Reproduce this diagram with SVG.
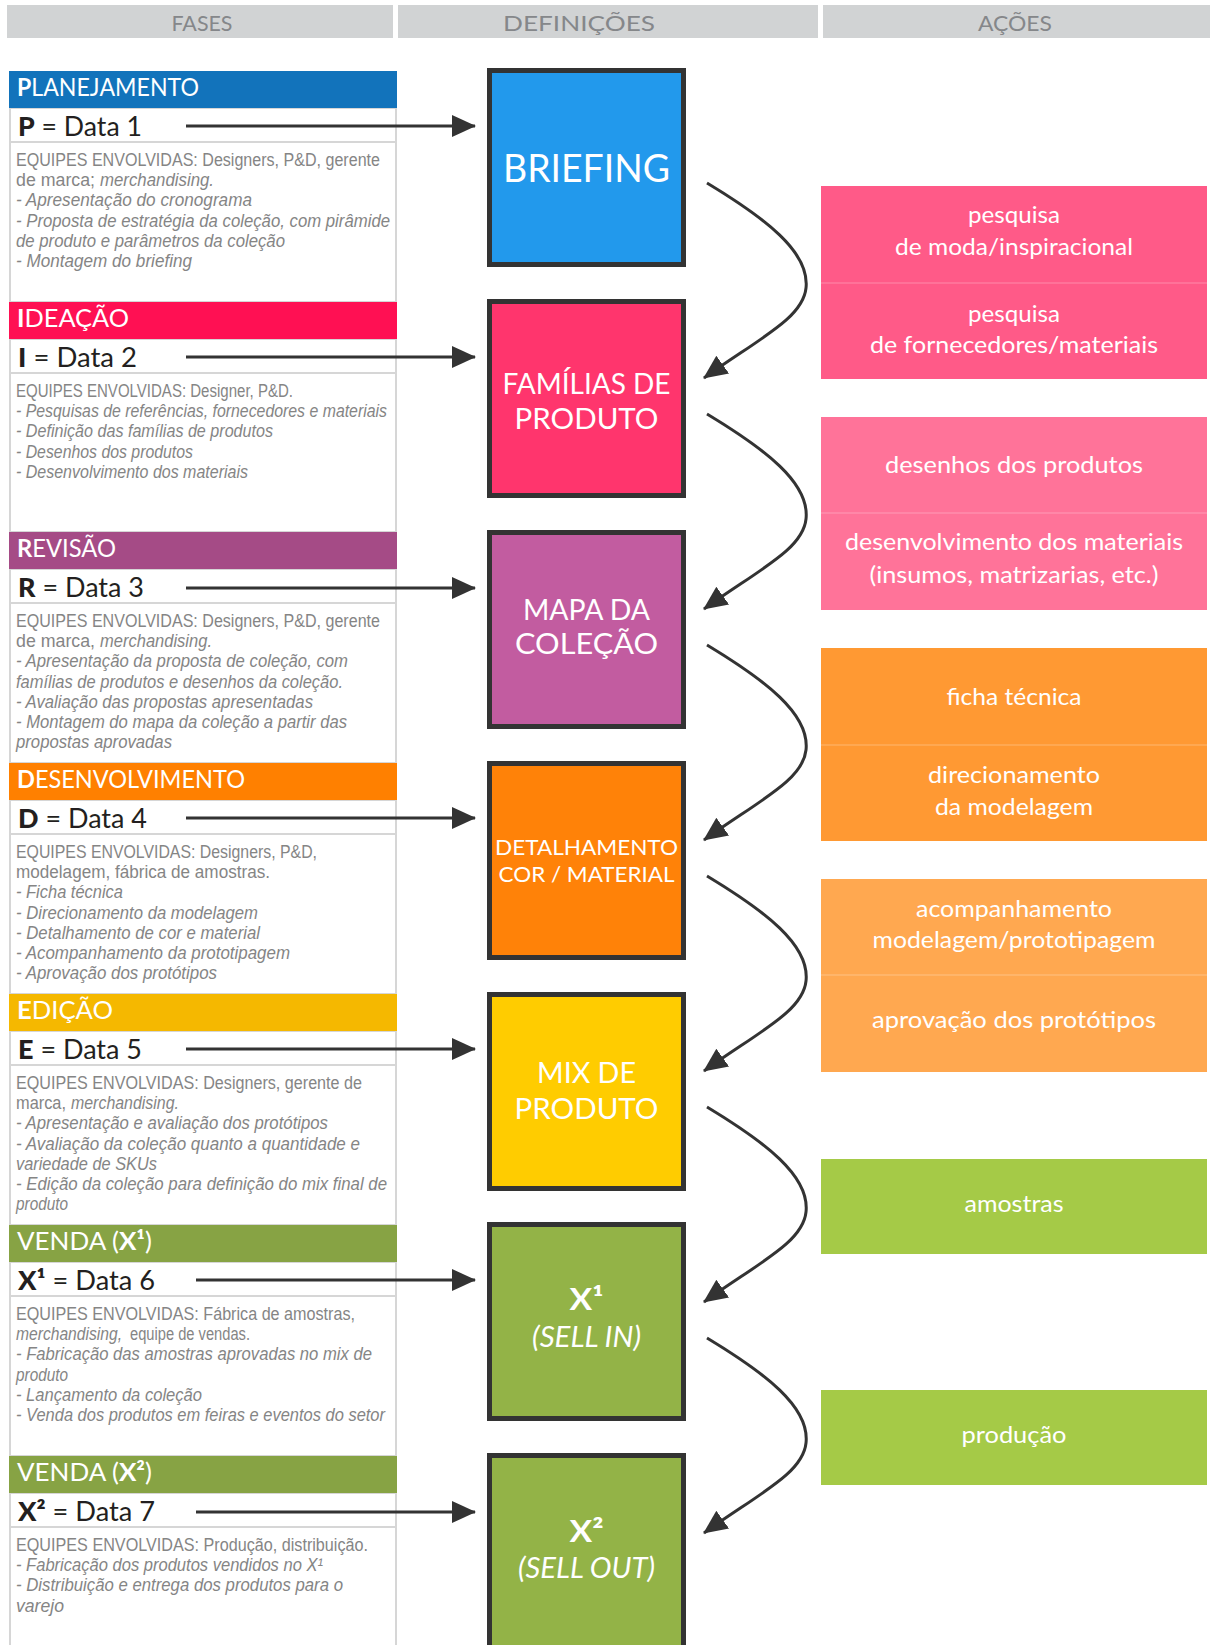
<svg xmlns="http://www.w3.org/2000/svg" width="1210" height="1645" viewBox="0 0 1210 1645">
  <defs>
    <marker id="arrow" markerUnits="userSpaceOnUse" markerWidth="24" markerHeight="24" viewBox="0 0 24 24" refX="23" refY="12" orient="auto">
      <path d="M0,1 L24,12 L0,23 z" fill="#333333"/>
    </marker>
    <style>
      .colhead { fill: #D1D3D4; }
      .colhead-t { font-family: Lato, "Liberation Sans", sans-serif; font-size: 22px; fill: #85878A; text-anchor: middle; }
      .phase-t { font-family: Lato, "Liberation Sans", sans-serif; font-size: 25px; fill: #FFFFFF; }
      .phase-t .b { font-weight: 700; }
      .date-t { font-family: Lato, "Liberation Sans", sans-serif; font-size: 26px; fill: #231F20; }
      .date-t .b { font-weight: 900; }
      .panel { fill: #FFFFFF; stroke: #D6D6D6; stroke-width: 2; }
      .desc { font-family: "Liberation Sans", Arial, sans-serif; font-size: 17.5px; fill: #858585; }
      .it { font-style: italic; }
      .def { stroke: #333333; stroke-width: 5; }
      .def-t { font-family: Lato, "Liberation Sans", sans-serif; fill: #FFFFFF; text-anchor: middle; }
      .act-t { font-family: Lato, "Liberation Sans", sans-serif; font-size: 23px; fill: #FFFFFF; text-anchor: middle; }
      .split { stroke: #FFFFFF; stroke-opacity: 0.3; stroke-width: 1; }
      .link { fill: none; stroke: #333333; stroke-width: 3; }
    </style>
  </defs>

  <rect width="1210" height="1645" fill="#FFFFFF"/>

  <!-- column headers -->
  <g id="column-headers">
    <rect class="colhead" x="7" y="5" width="386" height="33"/>
    <rect class="colhead" x="398" y="5" width="420" height="33"/>
    <rect class="colhead" x="823" y="5" width="387" height="33"/>
    <text class="colhead-t" x="202" y="31" textLength="61" lengthAdjust="spacingAndGlyphs">FASES</text>
    <text class="colhead-t" x="579" y="31" textLength="152" lengthAdjust="spacingAndGlyphs">DEFINIÇÕES</text>
    <text class="colhead-t" x="1015" y="31" textLength="74" lengthAdjust="spacingAndGlyphs">AÇÕES</text>
  </g>

  <!-- phases column -->
  <g id="phase-planejamento">
    <rect class="panel" x="10" y="108" width="386" height="194"/>
    <line x1="10" y1="142" x2="396" y2="142" stroke="#D6D6D6" stroke-width="2"/>
    <rect x="9" y="71" width="388" height="37" fill="#1273BB"/>
    <text class="phase-t" x="17" y="96" textLength="182" lengthAdjust="spacingAndGlyphs"><tspan class="b">P</tspan>LANEJAMENTO</text>
    <text class="date-t" x="18" y="136" textLength="124" lengthAdjust="spacingAndGlyphs"><tspan class="b">P</tspan> = Data 1</text>
    <text class="desc" x="16" y="166" textLength="364" lengthAdjust="spacingAndGlyphs">EQUIPES ENVOLVIDAS: Designers, P&amp;D, gerente</text>
    <text class="desc" x="16" y="186" textLength="79" lengthAdjust="spacingAndGlyphs">de marca;</text>
    <text class="desc it" x="100" y="186" textLength="114" lengthAdjust="spacingAndGlyphs">merchandising.</text>
    <text class="desc it" x="16" y="206" textLength="236" lengthAdjust="spacingAndGlyphs">- Apresentação do cronograma</text>
    <text class="desc it" x="16" y="227" textLength="374" lengthAdjust="spacingAndGlyphs">- Proposta de estratégia da coleção, com pirâmide</text>
    <text class="desc it" x="16" y="247" textLength="269" lengthAdjust="spacingAndGlyphs">de produto e parâmetros da coleção</text>
    <text class="desc it" x="16" y="267" textLength="176" lengthAdjust="spacingAndGlyphs">- Montagem do briefing</text>
  </g>

  <g id="phase-ideacao">
    <rect class="panel" x="10" y="339" width="386" height="193"/>
    <line x1="10" y1="373" x2="396" y2="373" stroke="#D6D6D6" stroke-width="2"/>
    <rect x="9" y="302" width="388" height="37" fill="#FF1053"/>
    <text class="phase-t" x="17" y="327" textLength="112" lengthAdjust="spacingAndGlyphs"><tspan class="b">I</tspan>DEAÇÃO</text>
    <text class="date-t" x="18" y="367" textLength="119" lengthAdjust="spacingAndGlyphs"><tspan class="b">I</tspan> = Data 2</text>
    <text class="desc" x="16" y="397" textLength="277" lengthAdjust="spacingAndGlyphs">EQUIPES ENVOLVIDAS: Designer, P&amp;D.</text>
    <text class="desc it" x="16" y="417" textLength="371" lengthAdjust="spacingAndGlyphs">- Pesquisas de referências, fornecedores e materiais</text>
    <text class="desc it" x="16" y="437" textLength="257" lengthAdjust="spacingAndGlyphs">- Definição das famílias de produtos</text>
    <text class="desc it" x="16" y="458" textLength="177" lengthAdjust="spacingAndGlyphs">- Desenhos dos produtos</text>
    <text class="desc it" x="16" y="478" textLength="232" lengthAdjust="spacingAndGlyphs">- Desenvolvimento dos materiais</text>
  </g>

  <g id="phase-revisao">
    <rect class="panel" x="10" y="569" width="386" height="194"/>
    <line x1="10" y1="603" x2="396" y2="603" stroke="#D6D6D6" stroke-width="2"/>
    <rect x="9" y="532" width="388" height="37" fill="#A54B86"/>
    <text class="phase-t" x="17" y="557" textLength="99" lengthAdjust="spacingAndGlyphs"><tspan class="b">R</tspan>EVISÃO</text>
    <text class="date-t" x="18" y="597" textLength="126" lengthAdjust="spacingAndGlyphs"><tspan class="b">R</tspan> = Data 3</text>
    <text class="desc" x="16" y="627" textLength="364" lengthAdjust="spacingAndGlyphs">EQUIPES ENVOLVIDAS: Designers, P&amp;D, gerente</text>
    <text class="desc" x="16" y="647" textLength="79" lengthAdjust="spacingAndGlyphs">de marca,</text>
    <text class="desc it" x="100" y="647" textLength="112" lengthAdjust="spacingAndGlyphs">merchandising.</text>
    <text class="desc it" x="16" y="667" textLength="332" lengthAdjust="spacingAndGlyphs">- Apresentação da proposta de coleção, com</text>
    <text class="desc it" x="16" y="688" textLength="327" lengthAdjust="spacingAndGlyphs">famílias de produtos e desenhos da coleção.</text>
    <text class="desc it" x="16" y="708" textLength="297" lengthAdjust="spacingAndGlyphs">- Avaliação das propostas apresentadas</text>
    <text class="desc it" x="16" y="728" textLength="331" lengthAdjust="spacingAndGlyphs">- Montagem do mapa da coleção a partir das</text>
    <text class="desc it" x="16" y="748" textLength="156" lengthAdjust="spacingAndGlyphs">propostas aprovadas</text>
  </g>

  <g id="phase-desenvolvimento">
    <rect class="panel" x="10" y="800" width="386" height="194"/>
    <line x1="10" y1="834" x2="396" y2="834" stroke="#D6D6D6" stroke-width="2"/>
    <rect x="9" y="763" width="388" height="37" fill="#FF8000"/>
    <text class="phase-t" x="17" y="788" textLength="228" lengthAdjust="spacingAndGlyphs"><tspan class="b">D</tspan>ESENVOLVIMENTO</text>
    <text class="date-t" x="18" y="828" textLength="129" lengthAdjust="spacingAndGlyphs"><tspan class="b">D</tspan> = Data 4</text>
    <text class="desc" x="16" y="858" textLength="301" lengthAdjust="spacingAndGlyphs">EQUIPES ENVOLVIDAS: Designers, P&amp;D,</text>
    <text class="desc" x="16" y="878" textLength="254" lengthAdjust="spacingAndGlyphs">modelagem, fábrica de amostras.</text>
    <text class="desc it" x="16" y="898" textLength="107" lengthAdjust="spacingAndGlyphs">- Ficha técnica</text>
    <text class="desc it" x="16" y="919" textLength="242" lengthAdjust="spacingAndGlyphs">- Direcionamento da modelagem</text>
    <text class="desc it" x="16" y="939" textLength="244" lengthAdjust="spacingAndGlyphs">- Detalhamento de cor e material</text>
    <text class="desc it" x="16" y="959" textLength="274" lengthAdjust="spacingAndGlyphs">- Acompanhamento da prototipagem</text>
    <text class="desc it" x="16" y="979" textLength="201" lengthAdjust="spacingAndGlyphs">- Aprovação dos protótipos</text>
  </g>

  <g id="phase-edicao">
    <rect class="panel" x="10" y="1031" width="386" height="194"/>
    <line x1="10" y1="1065" x2="396" y2="1065" stroke="#D6D6D6" stroke-width="2"/>
    <rect x="9" y="994" width="388" height="37" fill="#F5B800"/>
    <text class="phase-t" x="17" y="1019" textLength="96" lengthAdjust="spacingAndGlyphs"><tspan class="b">E</tspan>DIÇÃO</text>
    <text class="date-t" x="18" y="1059" textLength="124" lengthAdjust="spacingAndGlyphs"><tspan class="b">E</tspan> = Data 5</text>
    <text class="desc" x="16" y="1089" textLength="346" lengthAdjust="spacingAndGlyphs">EQUIPES ENVOLVIDAS: Designers, gerente de</text>
    <text class="desc" x="16" y="1109" textLength="50" lengthAdjust="spacingAndGlyphs">marca,</text>
    <text class="desc it" x="71" y="1109" textLength="108" lengthAdjust="spacingAndGlyphs">merchandising.</text>
    <text class="desc it" x="16" y="1129" textLength="312" lengthAdjust="spacingAndGlyphs">- Apresentação e avaliação dos protótipos</text>
    <text class="desc it" x="16" y="1150" textLength="344" lengthAdjust="spacingAndGlyphs">- Avaliação da coleção quanto a quantidade e</text>
    <text class="desc it" x="16" y="1170" textLength="141" lengthAdjust="spacingAndGlyphs">variedade de SKUs</text>
    <text class="desc it" x="16" y="1190" textLength="371" lengthAdjust="spacingAndGlyphs">- Edição da coleção para definição do mix final de</text>
    <text class="desc it" x="16" y="1210" textLength="52" lengthAdjust="spacingAndGlyphs">produto</text>
  </g>

  <g id="phase-venda-x1">
    <rect class="panel" x="10" y="1262" width="386" height="194"/>
    <line x1="10" y1="1296" x2="396" y2="1296" stroke="#D6D6D6" stroke-width="2"/>
    <rect x="9" y="1225" width="388" height="37" fill="#87A344"/>
    <text class="phase-t" x="17" y="1250" textLength="135" lengthAdjust="spacingAndGlyphs">VENDA (<tspan class="b">X¹</tspan>)</text>
    <text class="date-t" x="18" y="1290" textLength="137" lengthAdjust="spacingAndGlyphs"><tspan class="b">X¹</tspan> = Data 6</text>
    <text class="desc" x="16" y="1320" textLength="339" lengthAdjust="spacingAndGlyphs">EQUIPES ENVOLVIDAS: Fábrica de amostras,</text>
    <text class="desc it" x="16" y="1340" textLength="106" lengthAdjust="spacingAndGlyphs">merchandising,</text>
    <text class="desc" x="130" y="1340" textLength="120" lengthAdjust="spacingAndGlyphs">equipe de vendas.</text>
    <text class="desc it" x="16" y="1360" textLength="356" lengthAdjust="spacingAndGlyphs">- Fabricação das amostras aprovadas no mix de</text>
    <text class="desc it" x="16" y="1381" textLength="52" lengthAdjust="spacingAndGlyphs">produto</text>
    <text class="desc it" x="16" y="1401" textLength="186" lengthAdjust="spacingAndGlyphs">- Lançamento da coleção</text>
    <text class="desc it" x="16" y="1421" textLength="369" lengthAdjust="spacingAndGlyphs">- Venda dos produtos em feiras e eventos do setor</text>
  </g>

  <g id="phase-venda-x2">
    <rect class="panel" x="10" y="1493" width="386" height="170"/>
    <line x1="10" y1="1527" x2="396" y2="1527" stroke="#D6D6D6" stroke-width="2"/>
    <rect x="9" y="1456" width="388" height="37" fill="#87A344"/>
    <text class="phase-t" x="17" y="1481" textLength="135" lengthAdjust="spacingAndGlyphs">VENDA (<tspan class="b">X²</tspan>)</text>
    <text class="date-t" x="18" y="1521" textLength="137" lengthAdjust="spacingAndGlyphs"><tspan class="b">X²</tspan> = Data 7</text>
    <text class="desc" x="16" y="1551" textLength="352" lengthAdjust="spacingAndGlyphs">EQUIPES ENVOLVIDAS: Produção, distribuição.</text>
    <text class="desc it" x="16" y="1571" textLength="307" lengthAdjust="spacingAndGlyphs">- Fabricação dos produtos vendidos no X¹</text>
    <text class="desc it" x="16" y="1591" textLength="327" lengthAdjust="spacingAndGlyphs">- Distribuição e entrega dos produtos para o</text>
    <text class="desc it" x="16" y="1612" textLength="48" lengthAdjust="spacingAndGlyphs">varejo</text>
  </g>

  <!-- definitions column -->
  <g id="def-briefing">
    <rect class="def" x="489.5" y="70.5" width="194" height="194" fill="#2299EC"/>
    <text class="def-t" x="586.5" y="182" font-size="38" textLength="167" lengthAdjust="spacingAndGlyphs">BRIEFING</text>
  </g>
  <g id="def-familias">
    <rect class="def" x="489.5" y="301.5" width="194" height="194" fill="#FF356D"/>
    <text class="def-t" x="586.5" y="394" font-size="28" textLength="168" lengthAdjust="spacingAndGlyphs">FAMÍLIAS DE</text>
    <text class="def-t" x="586.5" y="429" font-size="28" textLength="144" lengthAdjust="spacingAndGlyphs">PRODUTO</text>
  </g>
  <g id="def-mapa">
    <rect class="def" x="489.5" y="532.5" width="194" height="194" fill="#C25CA0"/>
    <text class="def-t" x="586.5" y="620" font-size="28" textLength="127" lengthAdjust="spacingAndGlyphs">MAPA DA</text>
    <text class="def-t" x="586.5" y="654" font-size="28" textLength="143" lengthAdjust="spacingAndGlyphs">COLEÇÃO</text>
  </g>
  <g id="def-detalhamento">
    <rect class="def" x="489.5" y="763.5" width="194" height="194" fill="#FF8208"/>
    <text class="def-t" x="586.5" y="855" font-size="22" textLength="183" lengthAdjust="spacingAndGlyphs">DETALHAMENTO</text>
    <text class="def-t" x="586.5" y="882" font-size="22" textLength="176" lengthAdjust="spacingAndGlyphs">COR / MATERIAL</text>
  </g>
  <g id="def-mix">
    <rect class="def" x="489.5" y="994.5" width="194" height="194" fill="#FFCC00"/>
    <text class="def-t" x="586.5" y="1083" font-size="28" textLength="99" lengthAdjust="spacingAndGlyphs">MIX DE</text>
    <text class="def-t" x="586.5" y="1119" font-size="28" textLength="144" lengthAdjust="spacingAndGlyphs">PRODUTO</text>
  </g>
  <g id="def-sell-in">
    <rect class="def" x="489.5" y="1224.5" width="194" height="194" fill="#93B347"/>
    <text class="def-t" x="586.5" y="1310" font-size="30" font-weight="700" textLength="34" lengthAdjust="spacingAndGlyphs">X¹</text>
    <text class="def-t" x="586.5" y="1347" font-size="28" font-style="italic" textLength="109" lengthAdjust="spacingAndGlyphs">(SELL IN)</text>
  </g>
  <g id="def-sell-out">
    <rect class="def" x="489.5" y="1455.5" width="194" height="210" fill="#93B347"/>
    <text class="def-t" x="586.5" y="1542" font-size="30" font-weight="700" textLength="34" lengthAdjust="spacingAndGlyphs">X²</text>
    <text class="def-t" x="586.5" y="1578" font-size="28" font-style="italic" textLength="137" lengthAdjust="spacingAndGlyphs">(SELL OUT)</text>
  </g>

  <!-- actions column -->
  <g id="act-pesquisas">
    <rect x="821" y="186" width="386" height="193" fill="#FF5A88"/>
    <line class="split" x1="821" y1="283" x2="1207" y2="283"/>
    <text class="act-t" x="1014" y="223" textLength="92" lengthAdjust="spacingAndGlyphs">pesquisa</text>
    <text class="act-t" x="1014" y="255" textLength="238" lengthAdjust="spacingAndGlyphs">de moda/inspiracional</text>
    <text class="act-t" x="1014" y="322" textLength="92" lengthAdjust="spacingAndGlyphs">pesquisa</text>
    <text class="act-t" x="1014" y="353" textLength="288" lengthAdjust="spacingAndGlyphs">de fornecedores/materiais</text>
  </g>
  <g id="act-desenhos">
    <rect x="821" y="417" width="386" height="193" fill="#FF7399"/>
    <line class="split" x1="821" y1="513" x2="1207" y2="513"/>
    <text class="act-t" x="1014" y="473" textLength="258" lengthAdjust="spacingAndGlyphs">desenhos dos produtos</text>
    <text class="act-t" x="1014" y="550" textLength="338" lengthAdjust="spacingAndGlyphs">desenvolvimento dos materiais</text>
    <text class="act-t" x="1014" y="583" textLength="289" lengthAdjust="spacingAndGlyphs">(insumos, matrizarias, etc.)</text>
  </g>
  <g id="act-ficha">
    <rect x="821" y="648" width="386" height="193" fill="#FF9933"/>
    <line class="split" x1="821" y1="745" x2="1207" y2="745"/>
    <text class="act-t" x="1014" y="705" textLength="135" lengthAdjust="spacingAndGlyphs">ficha técnica</text>
    <text class="act-t" x="1014" y="783" textLength="172" lengthAdjust="spacingAndGlyphs">direcionamento</text>
    <text class="act-t" x="1014" y="815" textLength="158" lengthAdjust="spacingAndGlyphs">da modelagem</text>
  </g>
  <g id="act-prototipos">
    <rect x="821" y="879" width="386" height="193" fill="#FFA850"/>
    <line class="split" x1="821" y1="975" x2="1207" y2="975"/>
    <text class="act-t" x="1014" y="917" textLength="196" lengthAdjust="spacingAndGlyphs">acompanhamento</text>
    <text class="act-t" x="1014" y="948" textLength="283" lengthAdjust="spacingAndGlyphs">modelagem/prototipagem</text>
    <text class="act-t" x="1014" y="1028" textLength="284" lengthAdjust="spacingAndGlyphs">aprovação dos protótipos</text>
  </g>
  <g id="act-amostras">
    <rect x="821" y="1159" width="386" height="95" fill="#A5CA47"/>
    <text class="act-t" x="1014" y="1212" textLength="99" lengthAdjust="spacingAndGlyphs">amostras</text>
  </g>
  <g id="act-producao">
    <rect x="821" y="1390" width="386" height="95" fill="#A5CA47"/>
    <text class="act-t" x="1014" y="1443" textLength="105" lengthAdjust="spacingAndGlyphs">produção</text>
  </g>

  <!-- connectors -->
  <g id="connectors">
    <line class="link" x1="186" y1="126" x2="475" y2="126" marker-end="url(#arrow)"/>
    <line class="link" x1="186" y1="357" x2="475" y2="357" marker-end="url(#arrow)"/>
    <line class="link" x1="186" y1="588" x2="475" y2="588" marker-end="url(#arrow)"/>
    <line class="link" x1="186" y1="818" x2="475" y2="818" marker-end="url(#arrow)"/>
    <line class="link" x1="186" y1="1049" x2="475" y2="1049" marker-end="url(#arrow)"/>
    <line class="link" x1="196" y1="1280" x2="475" y2="1280" marker-end="url(#arrow)"/>
    <line class="link" x1="196" y1="1512" x2="475" y2="1512" marker-end="url(#arrow)"/>

    <path class="link" d="M707,183 C765,218 810,252 806,288 C803,318 760,338 704,378" marker-end="url(#arrow)"/>
    <path class="link" d="M707,414 C765,449 810,483 806,519 C803,549 760,569 704,609" marker-end="url(#arrow)"/>
    <path class="link" d="M707,645 C765,680 810,714 806,750 C803,780 760,800 704,840" marker-end="url(#arrow)"/>
    <path class="link" d="M707,876 C765,911 810,945 806,981 C803,1011 760,1031 704,1071" marker-end="url(#arrow)"/>
    <path class="link" d="M707,1107 C765,1142 810,1176 806,1212 C803,1242 760,1262 704,1302" marker-end="url(#arrow)"/>
    <path class="link" d="M707,1338 C765,1373 810,1407 806,1443 C803,1473 760,1493 704,1533" marker-end="url(#arrow)"/>
  </g>
</svg>
